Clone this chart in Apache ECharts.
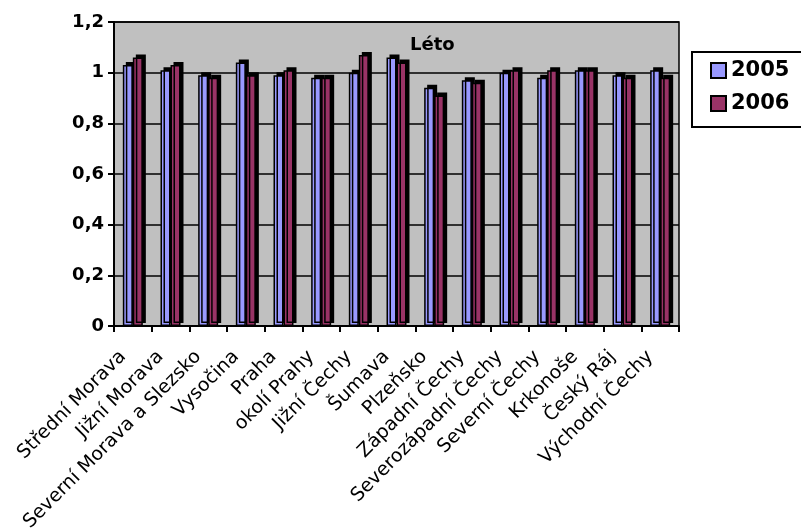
<!DOCTYPE html>
<html>
<head>
<meta charset="utf-8">
<script src="https://cdn.jsdelivr.net/npm/echarts@6/dist/echarts.min.js"></script>
<style>
html,body{margin:0;padding:0;background:#fff;}
#c{width:801px;height:529px;}
</style>
</head>
<body>
<div id="c"></div>
<script>
var categories = ["Střední Morava","Jižní Morava","Severní Morava a Slezsko","Vysočina","Praha","okolí Prahy","Jižní Čechy","Šumava","Plzeňsko","Západní Čechy","Severozápadní Čechy","Severní Čechy","Krkonoše","Český Ráj","Východní Čechy"];
var values2005 = [1.03,1.01,0.99,1.04,0.99,0.98,1.00,1.06,0.94,0.97,1.00,0.98,1.01,0.99,1.01];
var values2006 = [1.06,1.03,0.98,0.99,1.01,0.98,1.07,1.04,0.91,0.96,1.01,1.01,1.01,0.98,0.98];
var seriesNames = ["2005","2006"];
var chartTitle = "Léto";

var chart = echarts.init(document.getElementById('c'), null, {renderer:'canvas'});
var barShadow = {shadowColor:'#000',shadowBlur:0,shadowOffsetX:3,shadowOffsetY:-3};
chart.setOption({
  animation:false,
  backgroundColor:'#ffffff',
  title:{text:chartTitle,left:405,top:31,textStyle:{fontFamily:'DejaVu Sans',fontWeight:'bold',fontSize:18,color:'#000'}},
  legend:{
    orient:'vertical',left:692,top:52,
    padding:[8,20,13,18],itemGap:12,
    itemWidth:15,itemHeight:15,icon:'rect',
    borderColor:'#000',borderWidth:2,
    textStyle:{fontFamily:'DejaVu Sans',fontWeight:'bold',fontSize:21,color:'#000'},
    data:seriesNames
  },
  grid:{left:114,top:22,width:565,height:304,outerBoundsMode:'none',containLabel:false,show:true,backgroundColor:'#C0C0C0',borderColor:'#000',borderWidth:1.5},
  xAxis:{
    type:'category',data:categories,
    axisLine:{lineStyle:{color:'#000',width:2}},
    axisTick:{show:true,length:6,lineStyle:{color:'#000',width:2}},
    axisLabel:{rotate:45,margin:18,padding:[0,14,0,0],interval:0,fontFamily:'DejaVu Sans',fontSize:19,color:'#000'}
  },
  yAxis:{
    type:'value',min:0,max:1.2,interval:0.2,
    axisLine:{show:true,lineStyle:{color:'#000',width:2}},
    axisTick:{show:true,length:6,lineStyle:{color:'#000',width:2}},
    splitLine:{lineStyle:{color:'#000',width:1.5}},
    axisLabel:{margin:10,fontFamily:'DejaVu Sans',fontWeight:'bold',fontSize:18,color:'#000',
      formatter:function(v){return String(Math.round(v*10)/10).replace('.',',');}}
  },
  series:[
    {name:seriesNames[0],type:'bar',data:values2005,barWidth:10,barGap:'0%',
     itemStyle:Object.assign({color:'#9999FF',borderColor:'#000',borderWidth:1.5},barShadow)},
    {name:seriesNames[1],type:'bar',data:values2006,barWidth:10,barGap:'0%',
     itemStyle:Object.assign({color:'#993366',borderColor:'#000',borderWidth:1.5},barShadow)}
  ]
});
</script>
</body>
</html>
